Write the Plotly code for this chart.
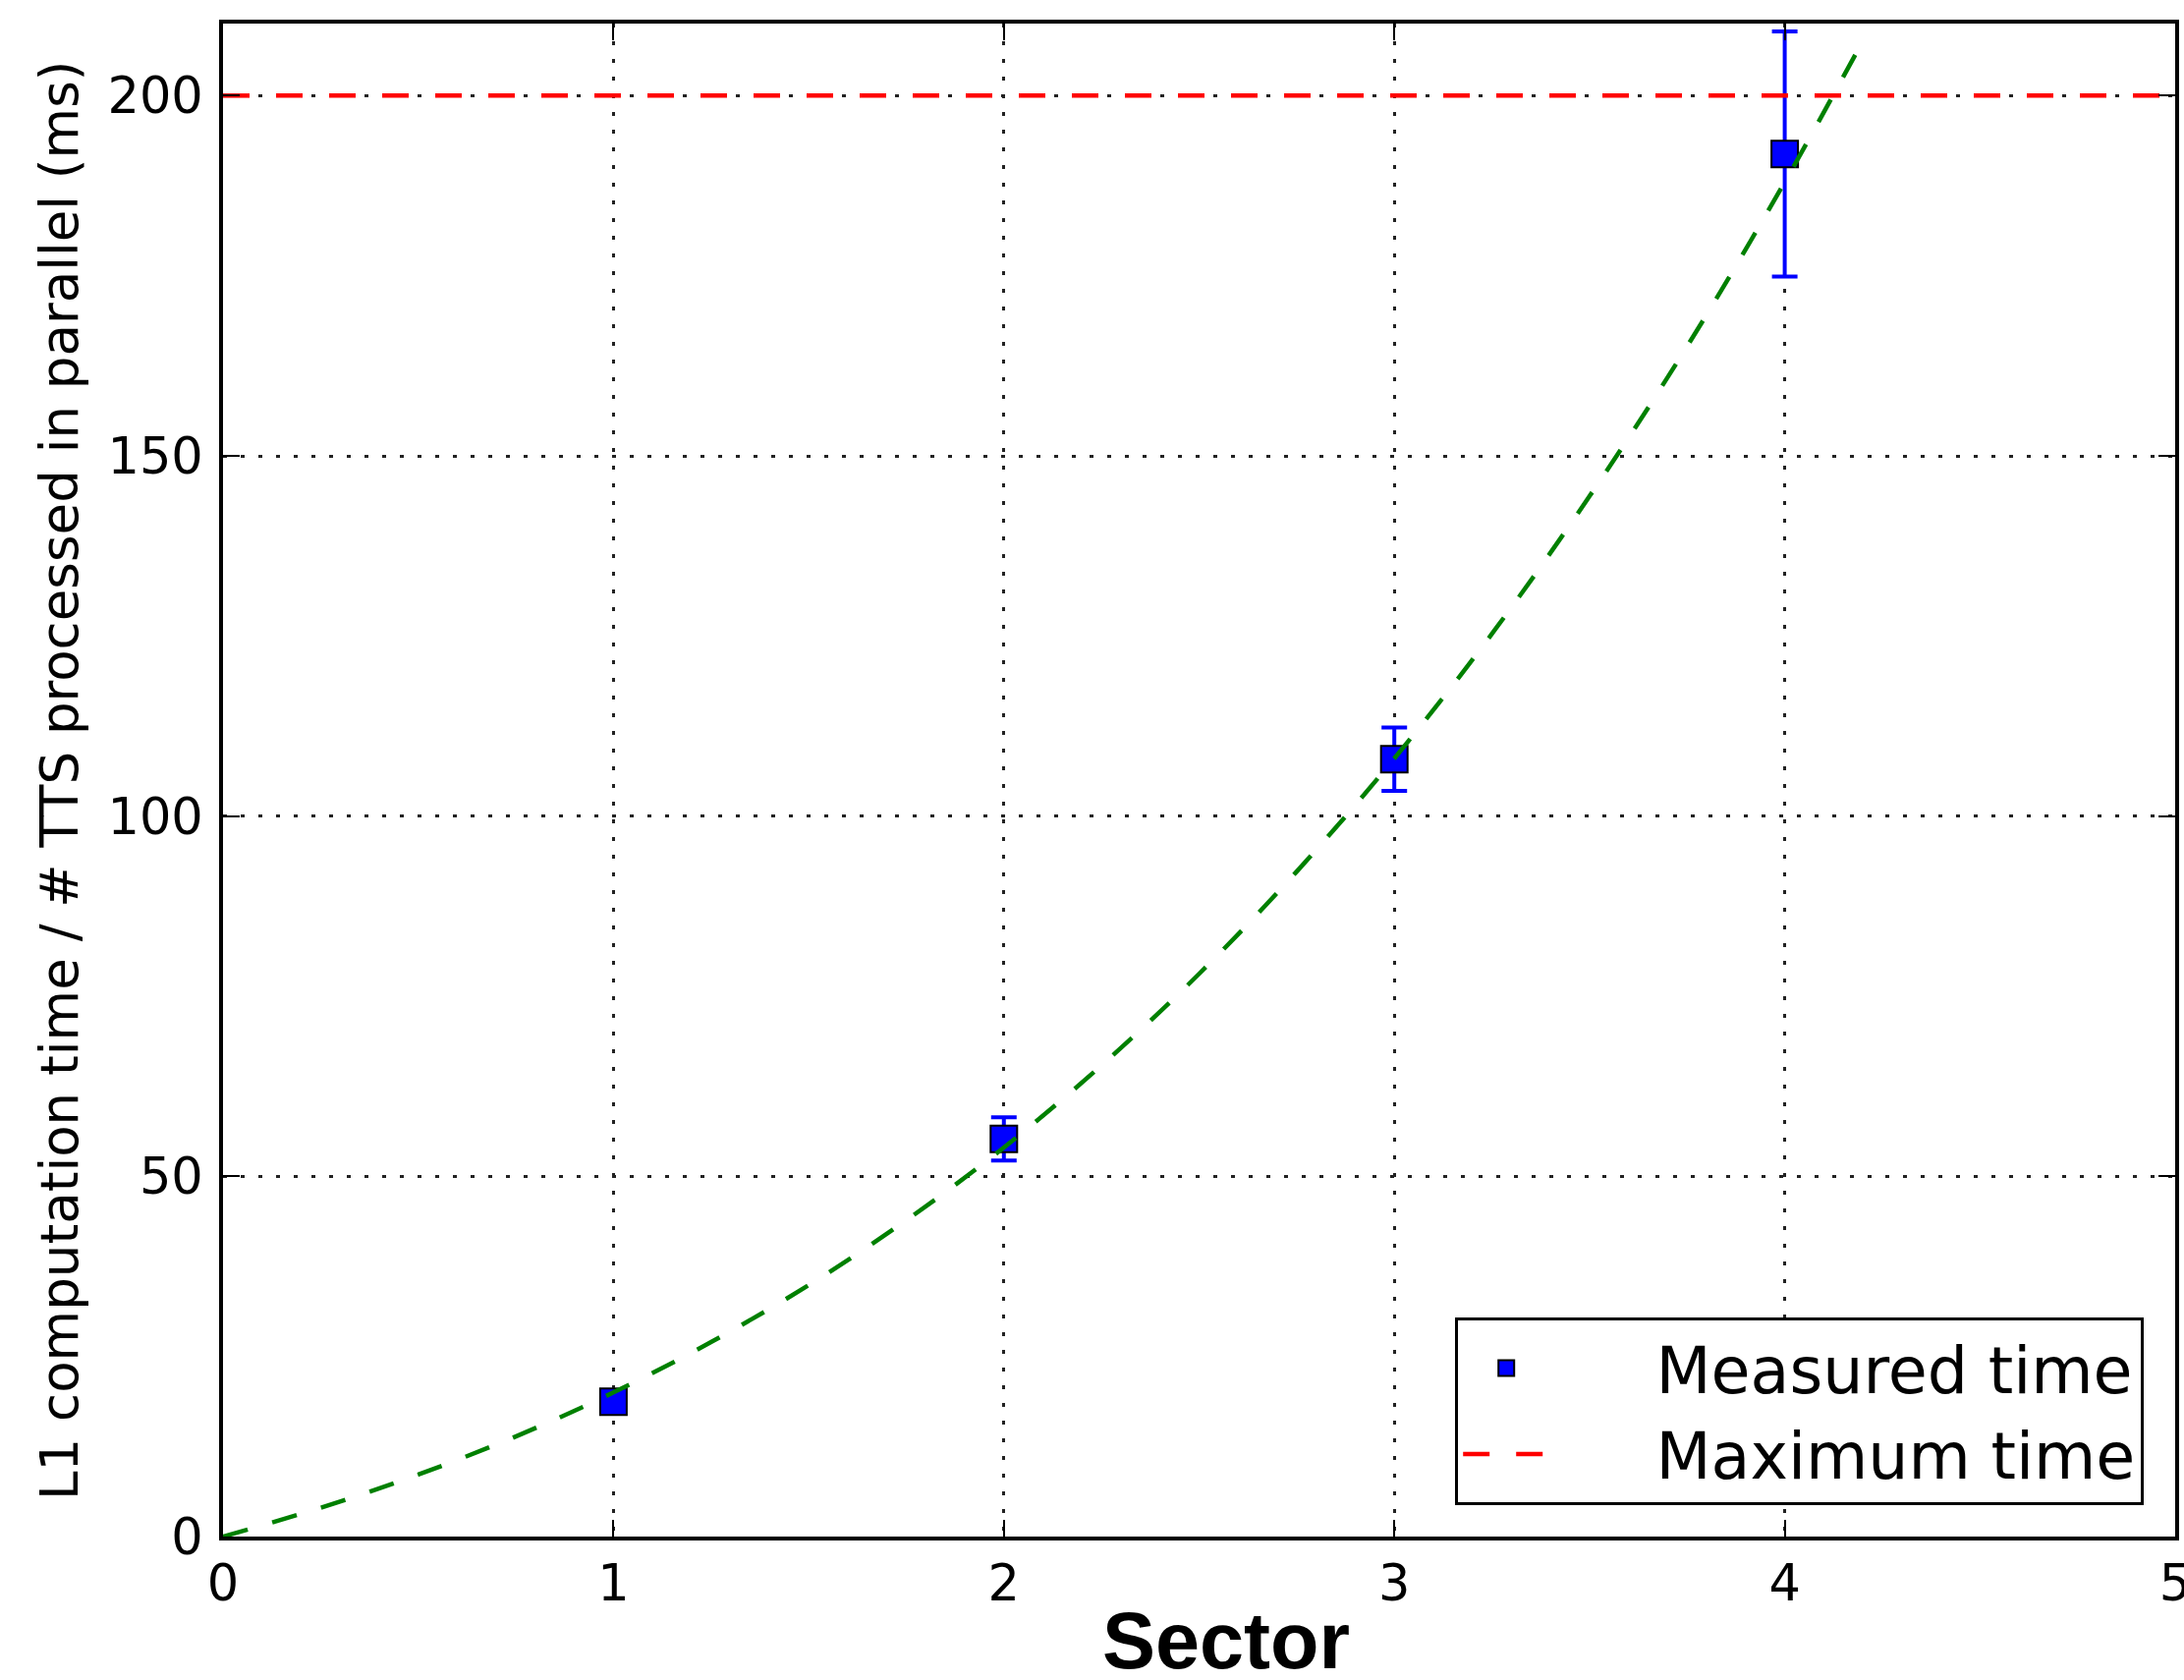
import plotly.graph_objects as go

# Measured L1 computation time per sector
sectors = [1, 2, 3, 4]
measured_ms = [18.7, 55.2, 107.9, 191.9]
measured_err = [1.5, 3.0, 4.4, 17.0]

# Fitted trend curve (sampled)
fit_x = [0, 0.25, 0.5, 0.75, 1.0, 1.25, 1.5, 1.75, 2.0, 2.25, 2.5, 2.75,
         3.0, 3.25, 3.5, 3.75, 4.0, 4.2]
fit_y = [0, 4.0, 8.6, 13.9, 20.0, 27.0, 34.9, 43.9, 54.0, 65.4, 78.1, 92.3,
         108.0, 125.3, 144.4, 165.2, 188.0, 207.6]

# Maximum allowed time
max_time_ms = 200
x_range = [0, 5]
y_range = [0, 210]
x_ticks = [0, 1, 2, 3, 4, 5]
y_ticks = [0, 50, 100, 150, 200]

FONT = "DejaVu Sans"
PAD = "\u00a0" * 5  # gap between legend symbol and its label

fig = go.Figure()

fig.add_trace(go.Scatter(
    x=sectors, y=measured_ms, mode="markers", name=PAD + "Measured time",
    marker=dict(symbol="square", size=27, color="blue",
                line=dict(color="black", width=2)),
    error_y=dict(type="data", array=measured_err, visible=True,
                 color="blue", thickness=4, width=13),
    legendrank=1, legendgroup="measured",
))

fig.add_trace(go.Scatter(
    x=fit_x, y=fit_y, mode="lines", showlegend=False,
    line=dict(color="green", width=4.5, dash="26px,26px", shape="spline"),
))

fig.add_trace(go.Scatter(
    x=x_range, y=[max_time_ms, max_time_ms], mode="lines",
    name=PAD + "Maximum time",
    line=dict(color="red", width=4.5, dash="27px,27px"),
    legendrank=2, legendgroup="maximum",
))

axis_common = dict(
    showline=True, linecolor="black", linewidth=4, mirror="allticks",
    ticks="inside", ticklen=17, tickwidth=2, tickcolor="black",
    showgrid=True, gridcolor="#222", gridwidth=2.5, griddash="4px,14px",
    zeroline=False, automargin=False,
    tickfont=dict(family=FONT, size=51, color="black"),
)

fig.update_xaxes(range=x_range, tickvals=x_ticks, ticklabeloverflow="allow",
                 **axis_common)
fig.update_yaxes(range=y_range, tickvals=y_ticks, ticklabelstandoff=6,
                 **axis_common)

fig.add_annotation(
    text="L1 computation time / # TTS processed in parallel (ms)",
    xref="paper", yref="paper", x=-0.084, y=0.5, textangle=-90,
    showarrow=False, xanchor="center", yanchor="middle",
    font=dict(family=FONT, size=53, color="black"),
)
fig.add_annotation(
    text="<b>Sector</b>", xref="paper", yref="paper", x=0.514, y=-0.069,
    showarrow=False, xanchor="center", yanchor="middle",
    font=dict(family="Liberation Sans", size=81, color="black"),
)

fig.update_layout(
    width=2223, height=1710,
    margin=dict(l=227, r=9, t=24, b=146),
    plot_bgcolor="white", paper_bgcolor="white",
    legend=dict(
        x=0.984, y=0.021, xanchor="right", yanchor="bottom",
        bgcolor="white", bordercolor="black", borderwidth=3,
        font=dict(family=FONT, size=65, color="black"),
        itemwidth=88, traceorder="normal", tracegroupgap=9,
    ),
)

fig.write_html("out.html")
